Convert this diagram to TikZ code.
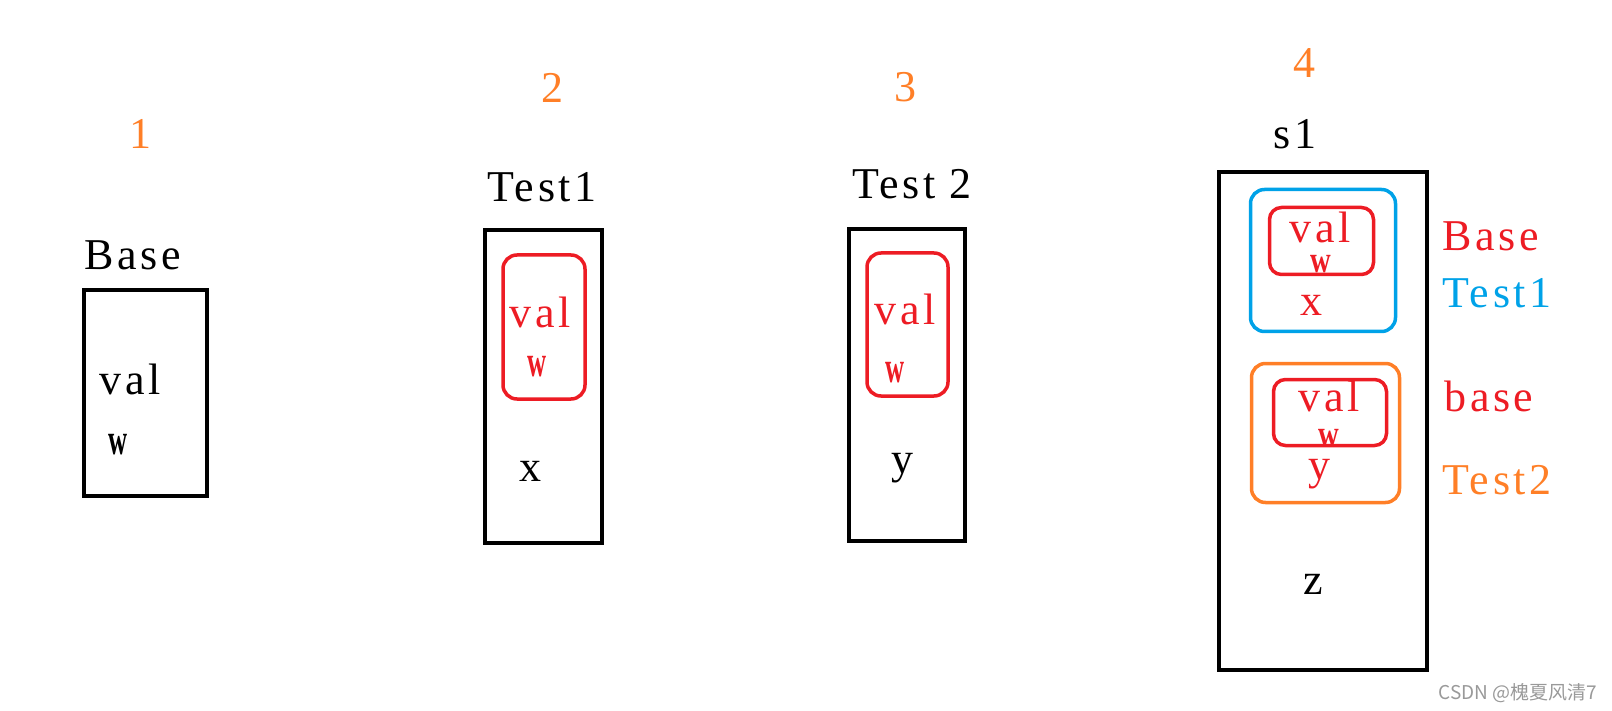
\documentclass[tikz,border=0pt]{standalone}
\usepackage{graphicx}
\usepackage{fontspec}
\setmainfont{Liberation Serif}[LetterSpace=8]
\newfontfamily\cjkfont{Noto Sans CJK SC}
\definecolor{pred}{RGB}{237,28,36}
\definecolor{porange}{RGB}{255,127,39}
\definecolor{pblue}{RGB}{0,162,232}
\newcommand{\wch}{\scalebox{0.6}[1]{\bfseries w}}
\newcommand{\wsmall}{\scalebox{0.65}[0.85]{\bfseries w}}

\begin{document}
\begin{tikzpicture}[
      x=1pt, y=-1pt,
      every node/.style={inner sep=0pt, anchor=base, font=\fontsize{44}{48}\selectfont},
      frame/.style={draw, line width=4pt, anchor=center},
      part/.style={draw=pred, line width=3.5pt, rounded corners=14pt, anchor=center},
      step num/.style={text=porange},
      watermark/.style={font=\cjkfont\fontsize{19}{22}\selectfont, text=black!40}
    ]
      \useasboundingbox (0,0) rectangle (1612,711);

      % 1: Base
      \node[step num] (n1) at (140,149) {1};
      \node (t1) at (133,270) {Base};
      \node[frame, minimum width=123, minimum height=206] (b1) at (145.5,393) {};
      \node (v1) at (130,394) {val};
      \node (w1) at (118,454) {\wch};

      % 2: Test1
      \node[step num] (n2) at (552,103) {2};
      \node (t2) at (542,202) {Test1};
      \node[frame, minimum width=117, minimum height=313] (b2) at (543.5,386.5) {};
      \node[part, minimum width=82, minimum height=144] (p2) at (544,327) {};
      \node[text=pred] (v2) at (540,327) {val};
      \node[text=pred] (w2) at (537,377) {\wch};
      \node (x2) at (530,481) {x};

      % 3: Test 2
      \node[step num] (n3) at (905,102) {3};
      \node (t3) at (912,199) {Test 2};
      \node[frame, minimum width=116, minimum height=312] (b3) at (907,385) {};
      \node[part, minimum width=81, minimum height=143] (p3) at (907.5,324.5) {};
      \node[text=pred] (v3) at (905,325) {val};
      \node[text=pred] (w3) at (895,382) {\wch};
      \node (y3) at (902,473) {y};

      % 4: s1
      \node[step num] (n4) at (1304,78) {4};
      \node (t4) at (1295,149) {s1};
      \node[frame, minimum width=208, minimum height=498] (b4) at (1323,421) {};
      \node[frame, draw=pblue, line width=3.5pt, rounded corners=14pt,
            minimum width=145, minimum height=142] (g1) at (1323,260.5) {};
      \node[part, rounded corners=12pt, minimum width=104, minimum height=67] (p4) at (1321.5,241) {};
      \node[text=pred] (v4) at (1320,243) {val};
      \node[text=pred] (w4) at (1321,273) {\wsmall};
      \node[text=pred] (x4) at (1311,316) {x};
      \node[frame, draw=porange, line width=3.5pt, rounded corners=14pt,
            minimum width=148, minimum height=139] (g2) at (1325.5,433) {};
      \node[part, rounded corners=12pt, minimum width=113, minimum height=66] (p5) at (1330,412.5) {};
      \node[text=pred] (v5) at (1329,411) {val};
      \node[text=pred] (w5) at (1329,446) {\wsmall};
      \node[text=pred] (y4) at (1319,479) {y};
      \node (z4) at (1313,594) {z};

      % labels on the right
      \node[text=pred] (l1) at (1491,251) {Base};
      \node[text=pblue] (l2) at (1497,308) {Test1};
      \node[text=pred] (l3) at (1489,411) {base};
      \node[text=porange] (l4) at (1497,494) {Test2};

      \node[watermark] (wm) at (1518,699) {CSDN @槐夏风清7};
    \end{tikzpicture}
\end{document}
